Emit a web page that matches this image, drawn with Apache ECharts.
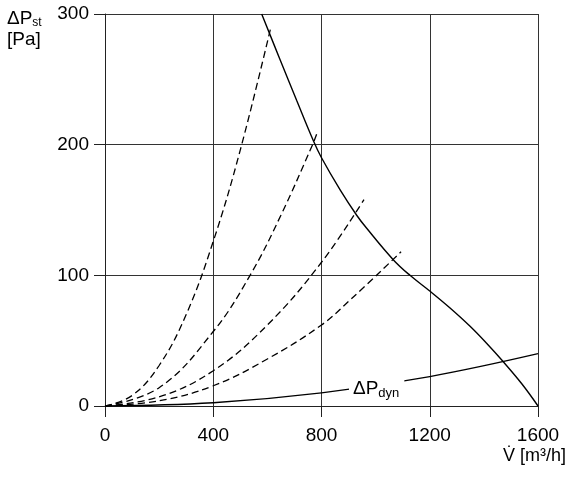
<!DOCTYPE html>
<html>
<head>
<meta charset="utf-8">
<script src="https://cdn.jsdelivr.net/npm/echarts@6/dist/echarts.min.js"></script>
<style>
  html, body { margin: 0; padding: 0; background: #fff; }
  #chart { width: 570px; height: 477px; }
</style>
</head>
<body>
<div id="chart"></div>
<script>
// axis ticks
const xTicks = [0, 400, 800, 1200, 1600]
const yTicks = [0, 100, 200, 300]

// fan curve (solid)
const fanCurve = [[579, 300], [647, 265], [708, 234], [770, 203], [800, 190], [870, 165],
  [930, 146], [967, 136], [1065, 112], [1127, 100], [1200, 88], [1275, 75], [1349, 61],
  [1410, 48], [1471, 34], [1540, 17], [1600, 0]]

// system curves (dashed)
const system1 = [[0, 0], [100, 8], [200, 31], [300, 70], [400, 126], [500, 196], [613, 290]]
const system2 = [[0, 0], [200, 14], [400, 57], [536, 100], [650, 146], [767, 200], [782, 208]]
const system3 = [[0, 0], [200, 7], [400, 27], [600, 62], [800, 110], [957, 158]]
const system4 = [[0, 0], [200, 4], [400, 15.5], [600, 36], [800, 62], [905, 81], [1094, 118]]

// dynamic pressure
const dynCurve = [[0, 0], [400, 2.5], [800, 10], [1200, 22.5], [1600, 40]]

const font = 'Liberation Sans, Arial, sans-serif'
const chart = echarts.init(document.getElementById('chart'))

const dashed = (data) => ({
  type: 'line',
  data: data,
  smooth: 0.4,
  symbol: 'none',
  lineStyle: { color: '#000', width: 1.3, type: [7, 4] },
})

chart.setOption({
  animation: false,
  grid: { left: 105, right: 32, top: 14, bottom: 71 },
  xAxis: {
    type: 'value',
    min: xTicks[0],
    max: xTicks[xTicks.length - 1],
    interval: 400,
    axisLine: { show: true, lineStyle: { color: '#222', width: 1 } },
    axisTick: { show: true, length: 11, lineStyle: { color: '#222' } },
    axisLabel: { color: '#000', fontSize: 19, fontFamily: font, margin: 20, formatter: (v) => String(v) },
    splitLine: { show: true, lineStyle: { color: '#333', width: 1 } },
  },
  yAxis: {
    type: 'value',
    min: yTicks[0],
    max: yTicks[yTicks.length - 1],
    interval: 100,
    axisLine: { show: true, lineStyle: { color: '#222', width: 1 } },
    axisTick: { show: true, length: 11, lineStyle: { color: '#222' } },
    axisLabel: { color: '#000', fontSize: 19, fontFamily: font, margin: 16, formatter: (v) => String(v) },
    splitLine: { show: true, lineStyle: { color: '#333', width: 1 } },
  },
  graphic: [
    {
      type: 'text', left: 7, top: 9, z: 100,
      style: {
        text: '{a|ΔP}{s|st}\n{a|[Pa]}',
        rich: {
          a: { fontSize: 19, fontFamily: font, fill: '#000', lineHeight: 21 },
          s: { fontSize: 12, fontFamily: font, fill: '#000', padding: [8, 0, 0, 0] },
        },
      },
    },
    {
      type: 'text', left: 503, top: 447, z: 100,
      style: { text: 'V\u0307 [m³/h]', fontSize: 18, fontFamily: font, fill: '#000' },
    },
    {
      type: 'text', left: 349, top: 376, z: 100,
      style: {
        text: '{a|ΔP}{s|dyn}',
        backgroundColor: '#fff',
        padding: [2, 5, 2, 4],
        rich: {
          a: { fontSize: 19, fontFamily: font, fill: '#000' },
          s: { fontSize: 13, fontFamily: font, fill: '#000', padding: [9, 0, 0, 0] },
        },
      },
    },
  ],
  series: [
    {
      type: 'line',
      data: fanCurve,
      smooth: 0.4,
      symbol: 'none',
      lineStyle: { color: '#000', width: 1.4 },
    },
    dashed(system1),
    dashed(system2),
    dashed(system3),
    dashed(system4),
    {
      type: 'line',
      data: dynCurve,
      smooth: 0.4,
      symbol: 'none',
      lineStyle: { color: '#000', width: 1.3 },
    },
  ],
})
</script>
</body>
</html>
